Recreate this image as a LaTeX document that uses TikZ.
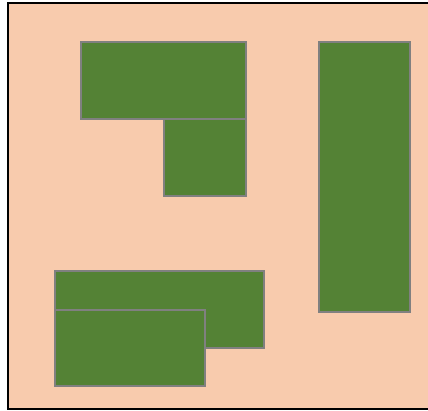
\documentclass[tikz,border=0pt]{standalone}
\usepackage{tikz}

\definecolor{peach}{HTML}{F8CBAD}
\definecolor{leaf}{HTML}{548235}

\begin{document}
\begin{tikzpicture}[
    x=1pt, y=-1pt,
    frame/.style={draw=black, fill=peach, line width=2.5pt},
    block/.style={draw=gray, fill=leaf, line width=2.6pt}
]
    \clip (0,0) rectangle (428,411);
    \fill[white] (0,0) rectangle (428,411);
    \draw[frame] (8,3) rectangle (440,409);
    % upper left pair
    \draw[block] (81,42) rectangle (246,119);
    \draw[block] (164,119) rectangle (246,196);
    % tall one on the right
    \draw[block] (319,42) rectangle (410,312);
    % lower pair
    \draw[block] (55,271) rectangle (264,348);
    \draw[block] (55,310) rectangle (205,386);
\end{tikzpicture}
\end{document}
